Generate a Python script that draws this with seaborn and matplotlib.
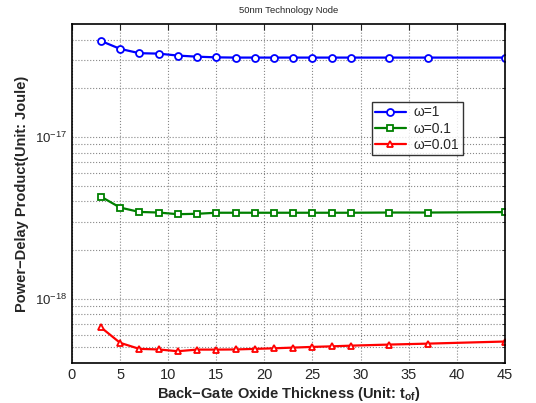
import numpy as np
import pandas as pd
import seaborn as sns
import matplotlib
matplotlib.use("Agg")
import matplotlib.pyplot as plt
from matplotlib.ticker import FixedLocator, NullFormatter, LogFormatterMathtext

# Back-gate oxide thickness (in units of t_of)
thickness = [3, 5, 7, 9, 11, 13, 15, 17, 19, 21, 23, 25, 27, 29, 33, 37, 45]

# Power-delay product (J) for each activity factor
pdp_w1 = [3.93e-17, 3.51e-17, 3.30e-17, 3.28e-17, 3.19e-17, 3.14e-17, 3.11e-17, 3.10e-17,
          3.10e-17, 3.10e-17, 3.10e-17, 3.10e-17, 3.10e-17, 3.10e-17, 3.10e-17, 3.10e-17, 3.10e-17]
pdp_w01 = [4.28e-18, 3.66e-18, 3.44e-18, 3.41e-18, 3.33e-18, 3.35e-18, 3.40e-18, 3.40e-18,
           3.40e-18, 3.40e-18, 3.40e-18, 3.40e-18, 3.40e-18, 3.40e-18, 3.41e-18, 3.41e-18, 3.43e-18]
pdp_w001 = [6.65e-19, 5.33e-19, 4.89e-19, 4.85e-19, 4.73e-19, 4.84e-19, 4.84e-19, 4.85e-19,
            4.89e-19, 4.93e-19, 4.98e-19, 5.03e-19, 5.07e-19, 5.12e-19, 5.20e-19, 5.27e-19, 5.43e-19]

labels = ["ω=1", "ω=0.1", "ω=0.01"]
colors = ["#0000ff", "#008000", "#ff0000"]
markers = ["o", "s", "^"]

df = pd.concat([
    pd.DataFrame({"t": thickness, "pdp": vals, "series": lab})
    for vals, lab in zip([pdp_w1, pdp_w01, pdp_w001], labels)
])

sns.set_style("white")
plt.rcParams["font.family"] = ["Liberation Sans", "DejaVu Sans"]
plt.rcParams["mathtext.fontset"] = "custom"
plt.rcParams["mathtext.rm"] = "Liberation Sans"
plt.rcParams["mathtext.bf"] = "Liberation Sans:bold"
plt.rcParams["mathtext.it"] = "Liberation Sans:italic"

fig = plt.figure(figsize=(5.36, 4.03), dpi=100)
ax = fig.add_axes([0.1343, 0.0993, 0.8077, 0.8411])

for lab, col, mk in zip(labels, colors, markers):
    sub = df[df["series"] == lab]
    sns.lineplot(data=sub, x="t", y="pdp", ax=ax, color=col, marker=mk,
                 markersize=5, markerfacecolor="white", markeredgecolor=col,
                 markeredgewidth=1.3, linewidth=1.6, label=lab)

ax.set_yscale("log")
ax.set_xlim(0, 45)
ax.set_ylim(4e-19, 5e-17)
ax.xaxis.set_major_locator(FixedLocator(np.arange(0, 46, 5)))
ax.yaxis.set_major_locator(FixedLocator([1e-18, 1e-17]))
ax.yaxis.set_major_formatter(LogFormatterMathtext())
minor_y = [m * 10.0 ** e for e in (-19, -18, -17) for m in range(2, 10)
           if 4e-19 <= m * 10.0 ** e <= 5e-17]
ax.yaxis.set_minor_locator(FixedLocator(minor_y))
ax.yaxis.set_minor_formatter(NullFormatter())

ax.grid(True, which="major", linestyle=":", color="#888888", linewidth=0.8)
ax.grid(True, which="minor", axis="y", linestyle=":", color="#888888", linewidth=0.8)
ax.tick_params(which="both", direction="in", top=True, right=True)
ax.tick_params(axis="x", labelsize=10.5)
ax.tick_params(axis="y", labelsize=9.5)
ax.tick_params(which="major", length=4)
ax.tick_params(which="minor", length=2)
for sp in ax.spines.values():
    sp.set_color("black")
    sp.set_linewidth(1.2)

ax.set_title("50nm Technology Node", fontsize=6.8, pad=8)
ax.set_xlabel(r"Back−Gate Oxide Thickness (Unit: $\mathbf{t_{of}}$)", fontsize=10.5,
              fontweight="bold", labelpad=2)
ax.set_ylabel("Power−Delay Product(Unit: Joule)", fontsize=10.5, fontweight="bold",
              labelpad=4)

leg = ax.legend(loc="upper left", bbox_to_anchor=(0.692, 0.77), fontsize=10,
                frameon=True, fancybox=False, borderpad=0.25, handlelength=2.2,
                labelspacing=0.15, borderaxespad=0, handletextpad=0.6)
leg.get_frame().set_edgecolor("black")
leg.get_frame().set_linewidth(1.0)

fig.savefig("out.png", dpi=100)
